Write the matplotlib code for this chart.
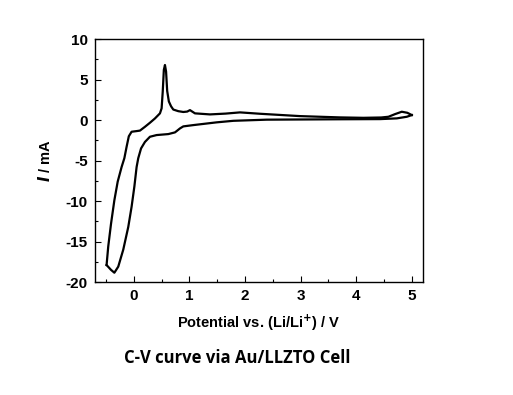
import matplotlib
matplotlib.use("Agg")
import matplotlib.pyplot as plt
from matplotlib.ticker import MultipleLocator

plt.rcParams['axes.unicode_minus'] = False

# Daten: Hinlauf (oberer Ast, links nach rechts)
pot_oben = [-0.49, -0.46, -0.41, -0.35, -0.29, -0.22, -0.17, -0.13, -0.09, -0.04, 0.05, 0.11,
            0.20, 0.29, 0.38, 0.47, 0.50, 0.52, 0.54, 0.56, 0.58, 0.60, 0.63, 0.67, 0.71, 0.80,
            0.89, 0.96, 1.01, 1.10, 1.37, 1.65, 1.91, 2.27, 2.99, 3.71, 4.13, 4.45, 4.58, 4.70,
            4.82, 4.92, 5.00]
strom_oben = [-17.9, -15.6, -12.8, -9.9, -7.6, -5.8, -4.7, -3.3, -2.0, -1.44, -1.36, -1.3,
              -0.83, -0.33, 0.2, 0.83, 1.45, 3.5, 6.2, 6.8, 6.0, 3.6, 2.3, 1.7, 1.3, 1.1,
              1.0, 1.05, 1.23, 0.83, 0.7, 0.8, 0.95, 0.78, 0.49, 0.33, 0.28, 0.32, 0.41, 0.74,
              1.03, 0.9, 0.62]

# Rücklauf (unterer Ast, rechts nach links)
pot_unten = [5.00, 4.91, 4.73, 4.43, 3.71, 2.39, 1.79, 1.49, 1.07, 0.89, 0.83, 0.77, 0.74,
             0.62, 0.41, 0.29, 0.20, 0.13, 0.08, 0.05, 0.01, -0.04, -0.10, -0.19, -0.28,
             -0.35, -0.41, -0.49]
strom_unten = [0.62, 0.41, 0.21, 0.12, 0.1, 0.05, -0.09, -0.28, -0.62, -0.78, -1.03, -1.36, -1.52,
               -1.73, -1.85, -2.06, -2.7, -3.5, -4.7, -5.8, -8.2, -10.7, -13.2, -16.0, -18.1,
               -18.85, -18.5, -17.9]

fig = plt.figure(figsize=(5.13, 3.95), dpi=100)
ax = fig.add_axes([0.185, 0.286, 0.6394, 0.615])

ax.plot(pot_oben, strom_oben, color='black', linewidth=1.6)
ax.plot(pot_unten, strom_unten, color='black', linewidth=1.6)

ax.set_xlim(-0.70, 5.2)
ax.set_ylim(-20, 10)
ax.xaxis.set_major_locator(MultipleLocator(1))
ax.xaxis.set_minor_locator(MultipleLocator(0.5))
ax.yaxis.set_major_locator(MultipleLocator(5))
ax.yaxis.set_minor_locator(MultipleLocator(2.5))
ax.tick_params(which='both', direction='in', top=False, right=False, width=0.8)
ax.tick_params(which='major', length=4, pad=5)
ax.tick_params(which='minor', length=2.5)
for lab in ax.get_xticklabels() + ax.get_yticklabels():
    lab.set_fontfamily('Liberation Sans')
    lab.set_fontweight('bold')
    lab.set_fontsize(11)
for s in ax.spines.values():
    s.set_linewidth(1.0)

ax.set_xlabel('Potential vs. (Li/Li$^\\mathbf{+}$) / V', fontsize=10.5, fontweight='bold',
              family='Liberation Sans', labelpad=7)
ax.set_ylabel('$\\boldsymbol{I}$ / mA', fontsize=10.5, fontweight='bold', family='Liberation Sans')
ax.yaxis.set_label_coords(-0.128, 0.5)

fig.text(0.463, 0.093, 'C-V curve via Au/LLZTO Cell', ha='center', va='center',
         fontsize=12, fontweight='bold', family='Open Sans')

fig.savefig('out.png', dpi=100)
